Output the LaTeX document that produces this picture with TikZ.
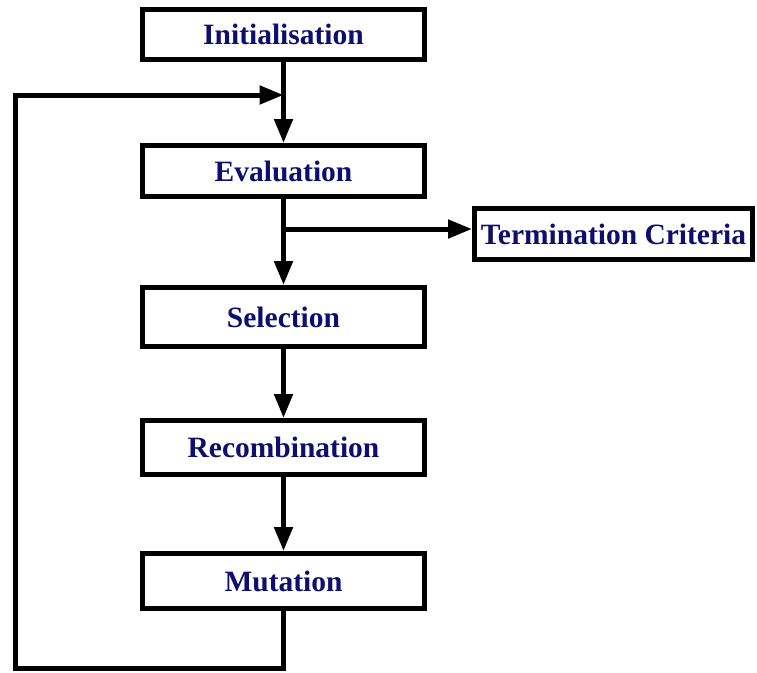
\documentclass[tikz,border=0pt]{standalone}
\usepackage{fontspec}
\setmainfont{Liberation Serif}
\usetikzlibrary{arrows.meta}
\definecolor{labelblue}{RGB}{14,14,110}
\tikzset{
  stagebox/.style={draw=black, line width=5pt, fill=white, inner sep=0pt,
    minimum width=282pt, text=labelblue,
    font=\fontsize{29.5}{32}\selectfont\bfseries},
  flow/.style={draw=black, line width=5pt, line join=miter,
    -{Triangle[length=24pt,width=18pt]}},
  plain/.style={draw=black, line width=5pt, line join=miter}
}
\begin{document}
\begin{tikzpicture}[x=1pt,y=-1pt]
  \useasboundingbox (0,0) rectangle (757,672);

  % stages of the loop
  \node[stagebox, minimum height=50pt] (init) at (283.5,34.5) {Initialisation};
  \node[stagebox, minimum height=51pt] (eval) at (283.5,171) {Evaluation};
  \node[stagebox, minimum height=59pt] (sel)  at (283.5,317) {Selection};
  \node[stagebox, minimum height=54pt] (rec)  at (283.5,447.5) {Recombination};
  \node[stagebox, minimum height=55pt] (mut)  at (283.5,581) {Mutation};
  \node[stagebox, minimum width=278pt, minimum height=51pt] (term) at (613.5,234) {Termination Criteria};

  % helper points of the connectors
  \coordinate (join)  at (283.5,95);
  \coordinate (split) at (283.5,229);
  \coordinate (bl)    at (15,668);
  \coordinate (tl)    at (15,95);

  % main flow
  \draw[flow] (init.south) -- (eval.north);
  \draw[flow] (eval.south) -- (sel.north);
  \draw[flow] (split) -- (term.west |- split);
  \draw[flow] (sel.south) -- (rec.north);
  \draw[flow] (rec.south) -- (mut.north);

  % feedback loop back to evaluation
  \draw[flow] (mut.south) |- (bl) -- (tl) -- (join);
\end{tikzpicture}
\end{document}
